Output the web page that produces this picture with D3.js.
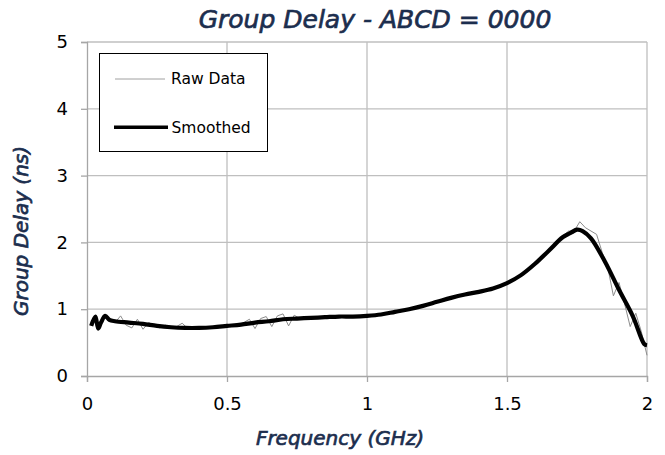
<!DOCTYPE html>
<html>
<head>
<meta charset="utf-8">
<script src="https://cdn.jsdelivr.net/npm/d3@7"></script>
<style>
  body { margin: 0; background: #fff; }
  svg { font-family: "DejaVu Sans", sans-serif; }
  .ttl { font-family: "DejaVu Sans", sans-serif; font-style: italic; font-weight: normal; paint-order: stroke; stroke-width: 0.7px; }
</style>
</head>
<body>
<svg id="chart"></svg>
<script>
// raw measurement (GHz, ns)
var rawFreq = [0.015,0.03,0.04,0.05,0.065,0.08,0.10,0.12,0.14,0.16,0.18,0.20,0.22,0.24,0.26,0.28,0.30,0.32,0.34,0.36,0.38,
  0.40,0.42,0.44,0.46,0.48,0.50,0.52,0.54,0.56,0.58,0.60,0.62,0.64,0.66,0.68,0.70,0.72,0.74,0.76,0.78,
  0.80,0.82,0.84,0.86,0.88,0.90,0.92,0.94,0.96,0.98,1.00,1.02,1.04,1.06,1.08,1.10,1.12,1.14,1.16,1.18,
  1.20,1.22,1.24,1.26,1.28,1.30,1.32,1.34,1.36,1.38,1.40,1.42,1.44,1.46,1.48,1.50,1.52,1.54,1.56,1.58,
  1.60,1.62,1.64,1.66,1.68,1.70,1.72,1.74,1.76,1.78,1.80,1.82,1.84,1.86,1.88,1.90,1.92,1.94,1.96,1.98,2.00]
var rawDelay = [0.75,0.89,0.71,0.80,0.91,0.84,0.80,0.90,0.76,0.72,0.85,0.70,0.80,0.76,0.72,0.76,0.72,0.74,0.79,0.71,0.73,
  0.72,0.73,0.73,0.74,0.74,0.75,0.76,0.76,0.80,0.85,0.71,0.86,0.89,0.74,0.90,0.93,0.75,0.91,0.86,0.88,
  0.86,0.88,0.87,0.89,0.88,0.90,0.89,0.90,0.89,0.90,0.90,0.91,0.92,0.93,0.95,0.96,0.98,0.99,1.01,1.03,
  1.05,1.08,1.10,1.12,1.15,1.17,1.19,1.21,1.23,1.25,1.26,1.28,1.30,1.33,1.36,1.40,1.44,1.50,1.52,1.60,
  1.68,1.76,1.83,1.92,2.00,2.10,2.17,2.17,2.31,2.22,2.17,2.12,1.85,1.62,1.20,1.40,1.08,0.74,0.94,0.66,0.31]

// smoothed curve
var smFreq = [0.015,0.03,0.04,0.05,0.065,0.08,0.10,0.15,0.20,0.25,0.30,0.35,0.40,0.45,0.50,0.55,0.60,0.65,0.70,0.75,
  0.80,0.85,0.90,0.95,1.00,1.05,1.10,1.15,1.20,1.25,1.30,1.35,1.40,1.45,1.50,1.55,1.60,1.65,1.70,1.73,
  1.75,1.77,1.80,1.85,1.90,1.95,1.99,2.00]
var smDelay = [0.75,0.89,0.71,0.80,0.90,0.84,0.82,0.80,0.78,0.75,0.73,0.72,0.72,0.73,0.75,0.77,0.80,0.82,0.85,0.86,
  0.87,0.88,0.89,0.89,0.90,0.92,0.96,1.00,1.05,1.11,1.17,1.22,1.26,1.31,1.39,1.51,1.68,1.88,2.08,2.15,
  2.19,2.17,2.06,1.71,1.29,0.89,0.48,0.46]

var xTicks = [0, 0.5, 1, 1.5, 2]
var yTicks = [0, 1, 2, 3, 4, 5]

var dimensions = {
    width: 665,
    height: 455,
    margin: { top: 42, bottom: 79, right: 18, left: 87 }
}
var navy = "#1c2e4e"
var gridColor = "#bfbfbf"

var svg = d3.select("#chart")
    .attr("width", dimensions.width)
    .attr("height", dimensions.height)

var xScale = d3.scaleLinear()
    .domain([0, 2])
    .range([dimensions.margin.left, dimensions.width - dimensions.margin.right])

var yScale = d3.scaleLinear()
    .domain([0, 5])
    .range([dimensions.height - dimensions.margin.bottom, dimensions.margin.top])

// gridlines
svg.append("g").selectAll("line")
    .data(xTicks.slice(1))
    .join("line")
    .attr("x1", d => xScale(d)).attr("x2", d => xScale(d))
    .attr("y1", yScale(0)).attr("y2", yScale(5))
    .attr("stroke", gridColor).attr("stroke-width", 1.3)

svg.append("g").selectAll("line")
    .data(yTicks.slice(1))
    .join("line")
    .attr("x1", xScale(0)).attr("x2", xScale(2))
    .attr("y1", d => yScale(d)).attr("y2", d => yScale(d))
    .attr("stroke", gridColor).attr("stroke-width", 1.3)

// axes
var xAxisGen = d3.axisBottom(xScale).tickValues(xTicks).tickSize(6).tickPadding(15).tickFormat(d3.format("~g"))
var yAxisGen = d3.axisLeft(yScale).tickValues(yTicks).tickSize(6).tickPadding(13).tickFormat(d3.format("d"))

svg.append("g")
    .attr("transform", "translate(0," + yScale(0) + ")")
    .call(xAxisGen)
svg.append("g")
    .attr("transform", "translate(" + xScale(0) + ",0)")
    .call(yAxisGen)

svg.selectAll(".domain").attr("stroke", "#a6a6a6").attr("stroke-width", 1.3)
svg.selectAll(".tick line").attr("stroke", "#a6a6a6").attr("stroke-width", 1.3)
svg.selectAll(".tick text")
    .style("font-size", "18px")
    .style("font-family", "'DejaVu Sans', sans-serif")
    .attr("fill", "#000")

// data lines
var rawLine = d3.line()
    .x((d, i) => xScale(rawFreq[i]))
    .y(d => yScale(d))

var smLine = d3.line()
    .x((d, i) => xScale(smFreq[i]))
    .y(d => yScale(d))
    .curve(d3.curveCatmullRom)

svg.append("path")
    .datum(rawDelay)
    .attr("d", rawLine)
    .attr("fill", "none")
    .attr("stroke", "#8c8c8c")
    .attr("stroke-width", 1)

svg.append("path")
    .datum(smDelay)
    .attr("d", smLine)
    .attr("fill", "none")
    .attr("stroke", "#000")
    .attr("stroke-width", 4.2)
    .attr("stroke-linejoin", "round")

// legend
var legend = svg.append("g")
legend.append("rect")
    .attr("x", 99.5).attr("y", 53.5)
    .attr("width", 168).attr("height", 98)
    .attr("fill", "#fff").attr("stroke", "#000").attr("stroke-width", 1)
legend.append("line")
    .attr("x1", 115).attr("x2", 165).attr("y1", 79).attr("y2", 79)
    .attr("stroke", "#a0a0a0").attr("stroke-width", 1)
legend.append("line")
    .attr("x1", 114).attr("x2", 168).attr("y1", 127.3).attr("y2", 127.3)
    .attr("stroke", "#000").attr("stroke-width", 3.6)
legend.append("text")
    .attr("x", 171).attr("y", 84.3)
    .style("font-size", "15.5px")
    .text("Raw Data")
legend.append("text")
    .attr("x", 171.5).attr("y", 132.7)
    .style("font-size", "15.5px")
    .text("Smoothed")

// titles
svg.append("text")
    .attr("class", "ttl")
    .attr("x", 375)
    .attr("y", 28)
    .attr("text-anchor", "middle")
    .attr("fill", navy).attr("stroke", navy)
    .style("font-size", "25px")
    .text("Group Delay - ABCD = 0000")

svg.append("text")
    .attr("class", "ttl")
    .attr("x", 340)
    .attr("y", 445)
    .attr("text-anchor", "middle")
    .attr("fill", navy).attr("stroke", navy)
    .style("font-size", "20px")
    .text("Frequency (GHz)")

svg.append("text")
    .attr("class", "ttl")
    .attr("transform", "translate(28,231) rotate(-90)")
    .attr("text-anchor", "middle")
    .attr("fill", navy).attr("stroke", navy)
    .style("font-size", "20px")
    .text("Group Delay (ns)")
</script>
</body>
</html>
